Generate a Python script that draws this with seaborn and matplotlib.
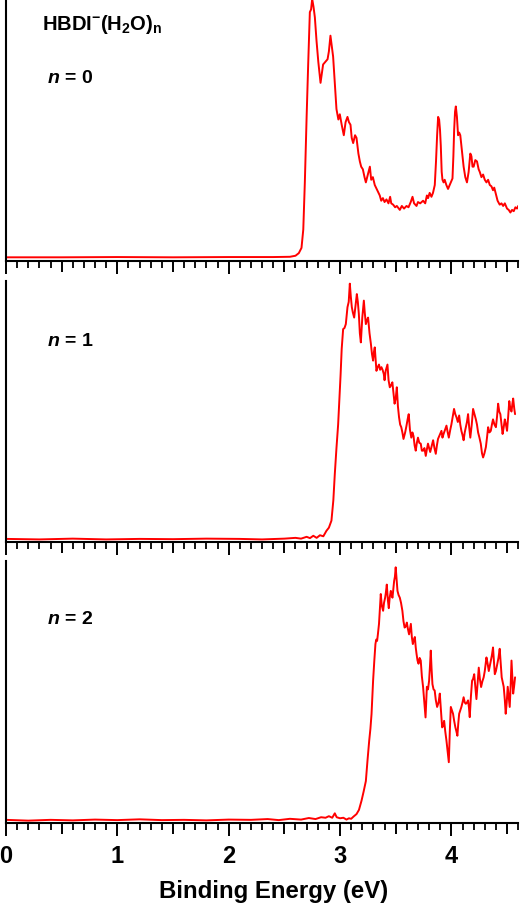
import numpy as np
import pandas as pd
import seaborn as sns
from matplotlib import pyplot as plt
from matplotlib.ticker import MultipleLocator

# SPECTRA
# binding energy (eV) and intensity (% of panel height)

be_n0 = [0.0, 0.5, 1.0, 1.5, 2.0, 2.4, 2.55, 2.6, 2.63, 2.654,
         2.67, 2.684, 2.70, 2.714, 2.729, 2.74, 2.75, 2.762, 2.774, 2.789,
         2.805, 2.825, 2.838, 2.848, 2.868, 2.888, 2.90, 2.914, 2.926, 2.938,
         2.953, 2.968, 2.985, 2.998, 3.015, 3.034, 3.05, 3.067, 3.08, 3.094,
         3.105, 3.118, 3.135, 3.148, 3.165, 3.178, 3.19, 3.205, 3.22, 3.232,
         3.25, 3.268, 3.28, 3.295, 3.312, 3.335, 3.357, 3.37, 3.385, 3.40,
         3.417, 3.435, 3.45, 3.46, 3.477, 3.495, 3.51, 3.537, 3.555, 3.575,
         3.597, 3.615, 3.635, 3.651, 3.665, 3.687, 3.70, 3.72, 3.746, 3.765,
         3.78, 3.791, 3.805, 3.821, 3.835, 3.851, 3.862, 3.872, 3.881, 3.890,
         3.898, 3.905, 3.913, 3.920, 3.93, 3.94, 3.955, 3.97, 3.98, 3.995,
         4.01, 4.018, 4.025, 4.033, 4.04, 4.05, 4.06, 4.07, 4.08, 4.095,
         4.11, 4.125, 4.14, 4.155, 4.17, 4.18, 4.19, 4.20, 4.215, 4.23,
         4.245, 4.255, 4.27, 4.285, 4.30, 4.315, 4.33, 4.345, 4.36, 4.374,
         4.385, 4.40, 4.415, 4.434, 4.45, 4.465, 4.48, 4.50, 4.515, 4.53,
         4.545, 4.56, 4.575, 4.59, 4.6]
int_n0 = [1.4, 1.4, 1.5, 1.4, 1.5, 1.5, 1.6, 2.0, 3.0, 5.0,
          12, 30, 55, 75, 95, 96, 100, 97, 93, 84,
          76, 68, 72, 75, 76, 77, 80, 86, 82, 78,
          68, 58, 54, 56, 52, 48, 53, 55, 53, 52,
          47, 45, 48, 47, 41, 38, 36, 35, 32, 30,
          33, 36, 31, 32, 29, 27, 25, 23, 24, 22.5,
          23.5, 22, 24.5, 22, 21.5, 20.5, 21, 19.5, 21, 20,
          21, 20.5, 22.5, 24.5, 22, 21, 22.5, 22, 23, 22,
          25, 24, 26, 24.5, 26, 29, 38, 48, 55, 54,
          50, 44, 34, 31, 30, 31, 29, 27.5, 28.5, 30,
          31.5, 40, 50, 57, 59, 55, 48, 49, 48, 42,
          36, 32, 30, 34, 41, 40, 36, 36, 38.5, 38,
          35, 34, 32, 33, 31, 30, 31, 29, 28.5, 27,
          28, 25.5, 23, 21.5, 22, 21, 22, 20, 19.5, 18.5,
          19.5, 19, 20.5, 20, 21]

be_n1 = [0.0, 0.3, 0.6, 0.9, 1.2, 1.5, 1.8, 2.1, 2.3, 2.5,
         2.6, 2.65, 2.7, 2.73, 2.76, 2.79, 2.82, 2.85, 2.878, 2.90,
         2.923, 2.94, 2.953, 2.968, 2.983, 2.995, 3.005, 3.015, 3.028, 3.04,
         3.052, 3.067, 3.078, 3.088, 3.097, 3.106, 3.115, 3.127, 3.14, 3.151,
         3.16, 3.169, 3.178, 3.187, 3.20, 3.214, 3.222, 3.232, 3.242, 3.252,
         3.265, 3.277, 3.287, 3.297, 3.305, 3.312, 3.32, 3.327, 3.338, 3.35,
         3.36, 3.372, 3.382, 3.393, 3.40, 3.41, 3.426, 3.436, 3.447, 3.458,
         3.47, 3.48, 3.49, 3.50, 3.51, 3.52, 3.53, 3.54, 3.55, 3.56,
         3.57, 3.585, 3.597, 3.607, 3.617, 3.628, 3.64, 3.65, 3.66, 3.67,
         3.68, 3.69, 3.70, 3.712, 3.725, 3.735, 3.746, 3.758, 3.77, 3.78,
         3.79, 3.80, 3.81, 3.822, 3.836, 3.848, 3.86, 3.87, 3.88, 3.895,
         3.911, 3.92, 3.93, 3.943, 3.956, 3.967, 3.977, 3.99, 4.0, 4.012,
         4.024, 4.035, 4.046, 4.058, 4.07, 4.08, 4.09, 4.10, 4.11, 4.12,
         4.13, 4.14, 4.15, 4.16, 4.17, 4.183, 4.195, 4.208, 4.22, 4.23,
         4.24, 4.252, 4.264, 4.275, 4.285, 4.297, 4.31, 4.32, 4.33, 4.342,
         4.354, 4.364, 4.374, 4.387, 4.40, 4.41, 4.42, 4.43, 4.44, 4.45,
         4.46, 4.47, 4.48, 4.49, 4.50, 4.51, 4.52, 4.53, 4.54, 4.548,
         4.555, 4.565, 4.572]
int_n1 = [1.2, 1.0, 1.3, 1.0, 1.2, 1.1, 1.3, 1.2, 1.0, 1.3,
          1.6, 1.3, 2.0, 1.5, 2.4, 1.6, 2.6, 2.2, 4.3, 5.5,
          8.2, 16, 26, 36, 45, 55, 64, 74, 81.6, 82,
          83.5, 90, 92, 99, 94, 90, 88, 86, 91, 95,
          92, 87.4, 80, 76.5, 86, 92.5, 88, 83.5, 85, 86,
          80, 76, 72, 69.5, 73, 74.6, 70, 65.6, 67, 68,
          66, 67, 66, 64.4, 62, 65.6, 68, 62, 59.3, 60,
          61.2, 57, 53, 55, 59.3, 52, 47.8, 45, 44, 42,
          39.5, 42, 44.6, 47, 49, 43, 40, 42, 40.6, 37,
          35, 38, 40, 38, 37.7, 35, 35, 36, 33, 35.5,
          37.7, 36, 34.5, 36.5, 39, 36, 33.8, 37, 39.5, 41,
          42.6, 40, 41.4, 43, 44.6, 42, 40, 43, 45, 48,
          51, 49, 47.8, 46, 48.5, 45, 42.6, 41, 39, 42,
          44, 46, 49, 44, 40, 45, 51, 49, 47, 45,
          42, 40, 37.7, 34, 32.4, 34, 36.4, 40, 44, 42,
          42.6, 45, 47, 45, 44, 48, 53, 50, 49, 45,
          41.4, 44, 47, 45, 42.6, 48, 54, 51, 50, 53,
          55, 51, 49]

be_n2 = [0.0, 0.2, 0.4, 0.6, 0.8, 1.0, 1.2, 1.4, 1.6, 1.8,
         2.0, 2.2, 2.35, 2.45, 2.55, 2.65, 2.72, 2.78, 2.83, 2.87,
         2.90, 2.93, 2.953, 2.97, 3.0, 3.03, 3.058, 3.08, 3.10, 3.12,
         3.148, 3.17, 3.193, 3.212, 3.232, 3.247, 3.262, 3.273, 3.283, 3.29,
         3.297, 3.308, 3.318, 3.325, 3.333, 3.34, 3.35, 3.358, 3.366, 3.375,
         3.387, 3.395, 3.405, 3.412, 3.42, 3.43, 3.438, 3.446, 3.456, 3.463,
         3.471, 3.478, 3.486, 3.493, 3.50, 3.508, 3.516, 3.526, 3.537, 3.548,
         3.56, 3.57, 3.58, 3.59, 3.60, 3.61, 3.62, 3.628, 3.636, 3.645,
         3.654, 3.663, 3.672, 3.68, 3.687, 3.696, 3.705, 3.715, 3.725, 3.735,
         3.746, 3.757, 3.768, 3.775, 3.78, 3.79, 3.80, 3.808, 3.815, 3.822,
         3.83, 3.84, 3.85, 3.86, 3.872, 3.885, 3.896, 3.906, 3.917, 3.926,
         3.935, 3.945, 3.956, 3.967, 3.977, 3.986, 3.995, 4.005, 4.015, 4.025,
         4.036, 4.045, 4.054, 4.062, 4.07, 4.08, 4.09, 4.10, 4.11, 4.12,
         4.13, 4.14, 4.15, 4.158, 4.165, 4.175, 4.186, 4.195, 4.205, 4.215,
         4.225, 4.235, 4.246, 4.256, 4.267, 4.278, 4.29, 4.30, 4.315, 4.325,
         4.336, 4.345, 4.354, 4.364, 4.374, 4.382, 4.39, 4.40, 4.413, 4.423,
         4.434, 4.443, 4.452, 4.46, 4.47, 4.48, 4.488, 4.497, 4.506, 4.515,
         4.524, 4.532, 4.54, 4.548, 4.555, 4.563, 4.572]
int_n2 = [1.2, 0.9, 1.2, 1.0, 1.3, 1.1, 1.4, 1.1, 1.2, 1.0,
          1.3, 1.2, 1.5, 1.1, 1.6, 1.3, 1.9, 1.5, 2.2, 2.0,
          2.6, 2.0, 3.7, 2.2, 1.8, 2.0, 1.3, 1.8, 1.6, 2.4,
          3.4, 5.0, 8.5, 12, 16, 24, 31.4, 36, 41.6, 48,
          54.3, 62, 68.3, 70, 69.5, 72, 76, 82, 87.4, 83,
          81, 84, 86, 88, 91, 85, 82, 86, 88.6, 87,
          86, 89, 92.4, 94, 97.6, 93, 88.6, 87, 86, 84,
          81, 77, 74.6, 75, 76.5, 74, 72, 74, 76, 71,
          68.3, 70, 71, 67, 64.6, 62, 60.8, 63, 62, 56,
          51.9, 46, 40.3, 47, 52, 51, 54.3, 60, 65.8, 59,
          53, 51, 50.6, 47, 44.3, 46, 49.4, 43, 36.5, 37,
          39, 35, 31.4, 27, 23.2, 35, 44.3, 43, 41.7, 39,
          36.5, 35, 33.3, 38, 41.7, 43, 44.3, 46, 48, 46,
          45.5, 46, 46.8, 44, 40.4, 48, 54.3, 55, 56.8, 52,
          47.3, 53, 59.3, 55, 51.9, 54, 55.6, 58, 63.2, 61,
          58, 60, 62, 64, 67, 62, 56.8, 58, 60.8, 63,
          66.5, 61, 55.6, 54, 52, 47, 41.7, 46, 52, 48,
          44.3, 52, 62, 55, 49.4, 52, 55.6]

panel_labels = ['0', '1', '2']
tick_labels = ['0', '', '1', '', '2', '', '3', '', '4', '']

spectra = [
    pd.DataFrame({'be': be_n0, 'intensity': int_n0}),
    pd.DataFrame({'be': be_n1, 'intensity': int_n1}),
    pd.DataFrame({'be': be_n2, 'intensity': int_n2}),
]

# STYLE

sns.set_style('ticks')
plt.rcParams['font.family'] = ['Liberation Sans', 'DejaVu Sans']
plt.rcParams['font.weight'] = 'bold'
plt.rcParams['text.color'] = 'black'
plt.rcParams['axes.labelcolor'] = 'black'
plt.rcParams['xtick.color'] = 'black'
plt.rcParams['mathtext.fontset'] = 'custom'
plt.rcParams['mathtext.rm'] = 'Liberation Sans:bold'
plt.rcParams['mathtext.it'] = 'Liberation Sans:bold:italic'
plt.rcParams['mathtext.bf'] = 'Liberation Sans:bold'
plt.rcParams['mathtext.default'] = 'rm'

fig = plt.figure(figsize=(5.2, 9.04), dpi=100)

boxes = [
    [0.0115, 0.7102, 0.985, 0.2898],
    [0.0115, 0.3993, 0.985, 0.2887],
    [0.0115, 0.0885, 0.985, 0.2898],
]
label_y = [0.702, 0.774, 0.782]

for i, df in enumerate(spectra):
    ax = fig.add_axes(boxes[i])
    sns.lineplot(data=df, x='be', y='intensity', ax=ax, color='#ff0000',
                 linewidth=1.4, estimator=None, sort=False)
    ax.set_xlim(0, 4.6)
    ax.set_ylim(0, 100)
    ax.set_yticks([])
    ax.set_ylabel('')
    ax.set_xlabel('')
    for s in ['top', 'right']:
        ax.spines[s].set_visible(False)
    for s in ['left', 'bottom']:
        ax.spines[s].set_color('black')
        ax.spines[s].set_linewidth(1.5)

    ax.set_xticks(np.arange(0, 4.61, 0.5))
    ax.set_xticklabels(tick_labels)
    ax.xaxis.set_minor_locator(MultipleLocator(0.1))
    ax.tick_params(axis='x', which='major', direction='out', length=9.4,
                   width=1.4, labelsize=17, pad=6)
    ax.tick_params(axis='x', which='minor', bottom=True, direction='out',
                   length=5, width=1.3)
    for j, t in enumerate(ax.xaxis.get_major_ticks()):
        if j % 2:
            t.tick1line.set_markersize(7.7)
    if i < 2:
        ax.tick_params(axis='x', labelbottom=False)
    else:
        ax.set_xlabel('Binding Energy (eV)', fontsize=17.3, fontweight='bold')
        ax.xaxis.set_label_coords(0.523, -0.215)

    ax.text(0.080, label_y[i], r'$\mathit{n}$ = ' + panel_labels[i],
            transform=ax.transAxes, fontsize=14, ha='left', va='center')
    if i == 0:
        ax.text(0.070, 0.905, 'HBDI$^{-}$(H$_2$O)$_n$',
                transform=ax.transAxes, fontsize=14.5, ha='left', va='center')

plt.savefig('out.png', dpi=100)
